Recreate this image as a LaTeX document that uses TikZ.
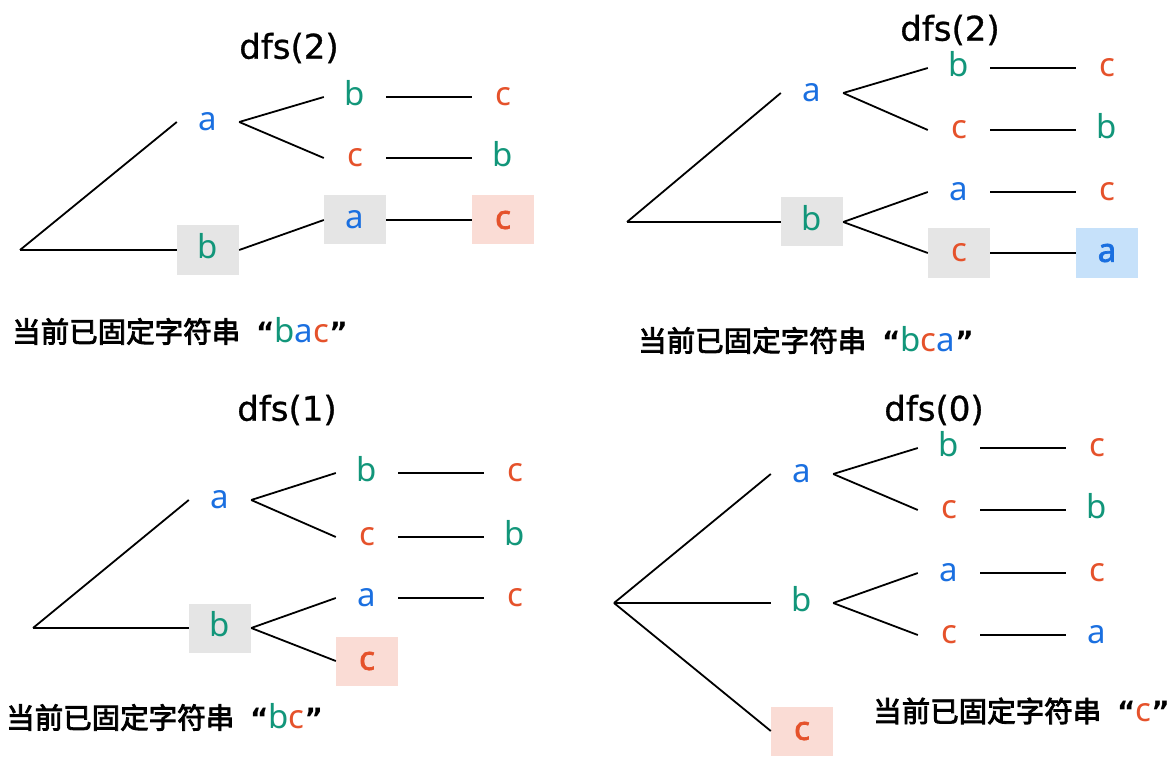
\documentclass[tikz,border=0pt]{standalone}
\usepackage{fontspec}
\setmainfont{Noto Sans}
\newfontfamily\boldlat[FakeBold=2.2]{Noto Sans}
\newfontfamily\cjk[FakeBold=3]{Noto Sans CJK SC}
\newfontfamily\quotefont{DejaVu Sans}
\newfontfamily\ttlfont[FakeBold=0.8]{DejaVu Sans}
\definecolor{ca}{HTML}{1A6FE0}
\definecolor{cb}{HTML}{12967A}
\definecolor{cc}{HTML}{E5522B}
\definecolor{gbox}{HTML}{E5E5E5}
\definecolor{pbox}{HTML}{FADCD5}
\definecolor{bbox}{HTML}{C6E1FA}
\newcommand{\Lb}{{\rmfamily\fontsize{33}{33}\selectfont\color{cb}b}}
\newcommand{\La}{{\rmfamily\fontsize{33}{33}\selectfont\color{ca}a}}
\newcommand{\Lc}{{\rmfamily\fontsize{33}{33}\selectfont\color{cc}c}}
\newcommand{\Qo}{\hspace{16pt}{\quotefont\bfseries\fontsize{28}{28}\selectfont“}}
\newcommand{\Qc}{{\quotefont\bfseries\fontsize{28}{28}\selectfont”}}
\tikzset{
  lt/.style={inner sep=0pt, minimum width=62pt, minimum height=49pt,
    text height=17.7pt, text depth=0pt, font=\rmfamily\fontsize{33}{33}\selectfont},
  la/.style={lt, text=ca},
  lb/.style={lt, text=cb},
  lc/.style={lt, text=cc},
  gbx/.style={fill=gbox},
  pbx/.style={fill=pbox, font=\boldlat\fontsize{33}{33}\selectfont},
  bbx/.style={fill=bbox, font=\boldlat\fontsize{33}{33}\selectfont},
  edge/.style={line width=1.8pt, black},
  ttl/.style={inner sep=0pt, font=\ttlfont\fontsize{34}{34}\selectfont},
  captxt/.style={anchor=west, inner sep=0pt, font=\cjk\fontsize{28.5}{28.5}\selectfont}
}
\begin{document}
\begin{tikzpicture}[x=1pt, y=-1pt]
\useasboundingbox (0,0) rectangle (1174,767);
% ---------- Panel 1 ----------
\node[ttl] (t1) at (289,48) {dfs(2)};
\coordinate (r1) at (20,250);
\node[la] (p1a) at (208,122) {a};
\node[lb,gbx] (p1b) at (208,250) {b};
\node[lb] (p1ab) at (355,97) {b};
\node[lc] (p1ac) at (355,158) {c};
\node[lc] (p1abc) at (503,97) {c};
\node[lb] (p1acb) at (503,158) {b};
\node[la,gbx] (p1ba) at (355,220) {a};
\node[lc,pbx] (p1bac) at (503,220) {c};
\draw[edge] (r1) -- (p1a.west);
\draw[edge] (r1) -- (p1b.west);
\draw[edge] (p1a.east) -- (p1ab.west);
\draw[edge] (p1a.east) -- (p1ac.west);
\draw[edge] (p1ab.east) -- (p1abc.west);
\draw[edge] (p1ac.east) -- (p1acb.west);
\draw[edge] (p1b.east) -- (p1ba.west);
\draw[edge] (p1ba.east) -- (p1bac.west);
\node[captxt] (c1) at (12,331) {当前已固定字符串\Qo\Lb\La\Lc\Qc};
% ---------- Panel 2 ----------
\node[ttl] (t2) at (950,30) {dfs(2)};
\coordinate (r2) at (627,222);
\node[la] (p2a) at (812,93) {a};
\node[lb,gbx] (p2b) at (812,222) {b};
\node[lb] (p2ab) at (959,68) {b};
\node[lc] (p2ac) at (959,130) {c};
\node[lc] (p2abc) at (1107,68) {c};
\node[lb] (p2acb) at (1107,130) {b};
\node[la] (p2ba) at (959,192) {a};
\node[lc,gbx] (p2bc) at (959,253) {c};
\node[lc] (p2bac) at (1107,192) {c};
\node[la,bbx] (p2bca) at (1107,253) {a};
\draw[edge] (r2) -- (p2a.west);
\draw[edge] (r2) -- (p2b.west);
\draw[edge] (p2a.east) -- (p2ab.west);
\draw[edge] (p2a.east) -- (p2ac.west);
\draw[edge] (p2ab.east) -- (p2abc.west);
\draw[edge] (p2ac.east) -- (p2acb.west);
\draw[edge] (p2b.east) -- (p2ba.west);
\draw[edge] (p2b.east) -- (p2bc.west);
\draw[edge] (p2ba.east) -- (p2bac.west);
\draw[edge] (p2bc.east) -- (p2bca.west);
\node[captxt] (c2) at (638,340) {当前已固定字符串\Qo\Lb\Lc\La\Qc};
% ---------- Panel 3 ----------
\node[ttl] (t3) at (287,410) {dfs(1)};
\coordinate (r3) at (33,628);
\node[la] (p3a) at (220,500) {a};
\node[lb,gbx] (p3b) at (220,628) {b};
\node[lb] (p3ab) at (367,473) {b};
\node[lc] (p3ac) at (367,537) {c};
\node[lc] (p3abc) at (515,473) {c};
\node[lb] (p3acb) at (515,537) {b};
\node[la] (p3ba) at (367,598) {a};
\node[lc,pbx] (p3bc) at (367,661) {c};
\node[lc] (p3bac) at (515,598) {c};
\draw[edge] (r3) -- (p3a.west);
\draw[edge] (r3) -- (p3b.west);
\draw[edge] (p3a.east) -- (p3ab.west);
\draw[edge] (p3a.east) -- (p3ac.west);
\draw[edge] (p3ab.east) -- (p3abc.west);
\draw[edge] (p3ac.east) -- (p3acb.west);
\draw[edge] (p3b.east) -- (p3ba.west);
\draw[edge] (p3b.east) -- (p3bc.west);
\draw[edge] (p3ba.east) -- (p3bac.west);
\node[captxt] (c3) at (6,717) {当前已固定字符串\Qo\Lb\Lc\Qc};
% ---------- Panel 4 ----------
\node[ttl] (t4) at (934,410) {dfs(0)};
\coordinate (r4) at (614,603);
\node[la] (p4a) at (802,474) {a};
\node[lb] (p4b) at (802,603) {b};
\node[lc,pbx] (p4c) at (802,731) {c};
\node[lb] (p4ab) at (949,448) {b};
\node[lc] (p4ac) at (949,510) {c};
\node[lc] (p4abc) at (1097,448) {c};
\node[lb] (p4acb) at (1097,510) {b};
\node[la] (p4ba) at (949,573) {a};
\node[lc] (p4bc) at (949,635) {c};
\node[lc] (p4bac) at (1097,573) {c};
\node[la] (p4bca) at (1097,635) {a};
\draw[edge] (r4) -- (p4a.west);
\draw[edge] (r4) -- (p4b.west);
\draw[edge] (r4) -- (p4c.west);
\draw[edge] (p4a.east) -- (p4ab.west);
\draw[edge] (p4a.east) -- (p4ac.west);
\draw[edge] (p4ab.east) -- (p4abc.west);
\draw[edge] (p4ac.east) -- (p4acb.west);
\draw[edge] (p4b.east) -- (p4ba.west);
\draw[edge] (p4b.east) -- (p4bc.west);
\draw[edge] (p4ba.east) -- (p4bac.west);
\draw[edge] (p4bc.east) -- (p4bca.west);
\node[captxt] (c4) at (873,711) {当前已固定字符串\Qo\Lc\Qc};
\end{tikzpicture}
\end{document}
